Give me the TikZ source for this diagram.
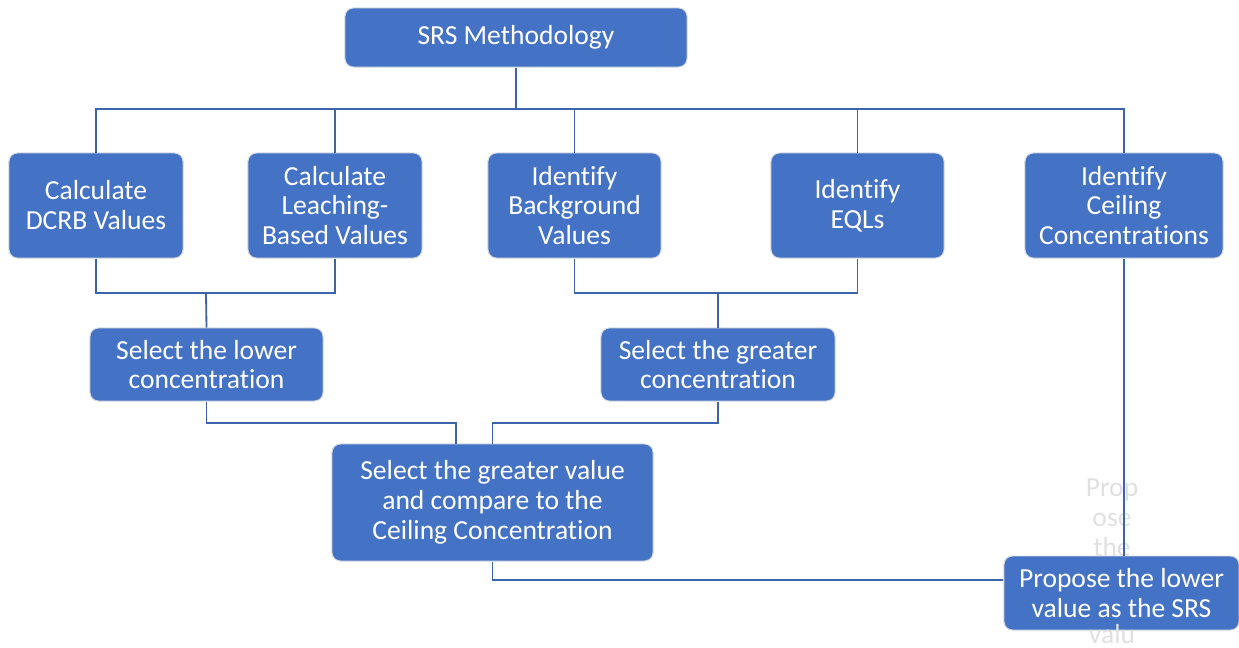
\documentclass[tikz,border=0pt]{standalone}
\usepackage{fontspec}
\setmainfont{Carlito}[Ligatures={NoCommon}]
\definecolor{boxblue}{HTML}{4472C4}
\definecolor{linkblue}{HTML}{3C64AA}
\definecolor{rimgray}{HTML}{D6DAE0}
\tikzset{
  box/.style={rectangle,rounded corners=6pt,fill=boxblue,draw=rimgray,line width=0.7pt,
    text=white,align=center,inner sep=0pt,font=\fontsize{19.6}{21.3}\selectfont},
  link/.style={draw=linkblue,line width=1.3pt},
  ghost/.style={text=black!12,align=center,inner sep=0pt,font=\fontsize{19.6}{21.3}\selectfont}
}
\begin{document}
\begin{tikzpicture}[x=0.025cm,y=-0.025cm]
        \useasboundingbox (0,0) rectangle (1239,647);
        \draw (516,37.5) node[box,minimum width=8.55cm,minimum height=1.475cm] (srs) {SRS Methodology};
        \draw (96,205.5) node[box,minimum width=4.35cm,minimum height=2.625cm] (dcrb) {Calculate\\DCRB Values};
        \draw (335,205.5) node[box,minimum width=4.35cm,minimum height=2.625cm] (leach) {Calculate\\Leaching-\\Based Values};
        \draw (574.5,205.5) node[box,minimum width=4.325cm,minimum height=2.625cm] (bkg) {Identify\\Background\\Values};
        \draw (857.5,205.5) node[box,minimum width=4.325cm,minimum height=2.625cm] (eql) {Identify\\EQLs};
        \draw (1124,205.5) node[box,minimum width=4.95cm,minimum height=2.625cm] (ceil) {Identify\\Ceiling\\Concentrations};
        \draw (206.5,364.5) node[box,minimum width=5.825cm,minimum height=1.825cm] (lower) {Select the lower\\concentration};
        \draw (718,364.5) node[box,minimum width=5.85cm,minimum height=1.825cm] (greater) {Select the greater\\concentration};
        \draw (492.5,502.5) node[box,minimum width=8.025cm,minimum height=2.925cm] (compare) {Select the greater value\\and compare to the\\Ceiling Concentration};
        \draw (1121.5,593) node[box,minimum width=5.875cm,minimum height=1.85cm] (propose) {Propose the lower\\value as the SRS};
        \draw (1112,518) node[ghost] (spill) {Prop\\ose\\the};
        \draw (1112,634) node[ghost] (spilltail) {valu};

        \coordinate (bus) at (516,109);
        \coordinate (j1) at (206,293);
        \coordinate (j2) at (718,293);
        \coordinate (j3) at (0,423);
        \coordinate (j4) at (0,580);
        \coordinate (c1) at (456,444);

        \draw[link] (srs) -- (bus);
        \draw[link] (dcrb.north) -- (dcrb.north |- bus) -- (ceil.north |- bus) -- (ceil.north);
        \foreach \n in {leach,bkg,eql}
          \draw[link] (\n.north) -- (\n.north |- bus);

        \draw[link] (dcrb.south) |- (j1) -| (leach.south);
        \draw[link] (j1) -- (lower.north);
        \draw[link] (bkg.south) |- (j2) -| (eql.south);
        \draw[link] (j2) -- (greater.north);

        \draw[link] (lower.south) |- (c1 |- j3) -- (c1);
        \draw[link] (greater.south) |- (compare.north |- j3) -- (compare.north);

        \draw[link] (ceil.south) -- (ceil.south |- propose.north);
        \draw[link] (compare.south) |- (propose.west |- j4);
\end{tikzpicture}
\end{document}
